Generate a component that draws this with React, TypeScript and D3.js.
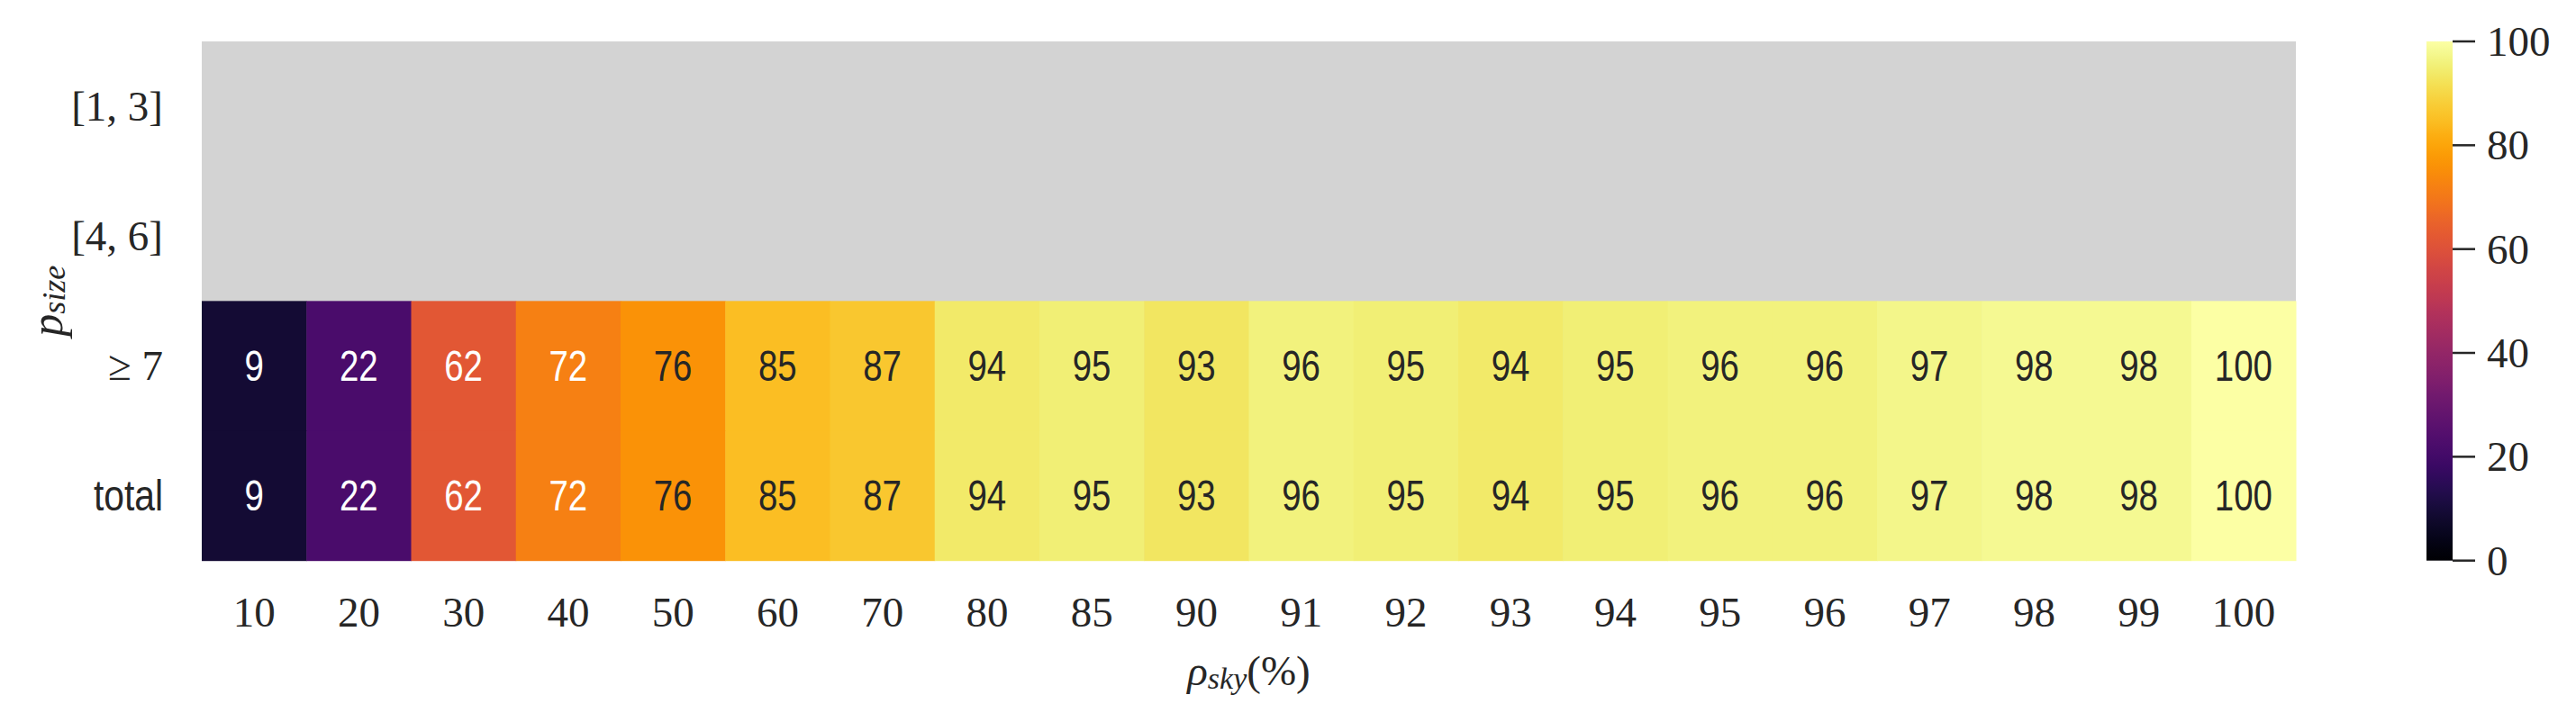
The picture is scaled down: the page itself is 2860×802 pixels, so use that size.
import React from "react";
import * as d3 from "d3";

// rho_sky (%) columns
const skyLevels = ["10", "20", "30", "40", "50", "60", "70", "80", "85", "90", "91", "92", "93", "94", "95", "96", "97", "98", "99", "100"];
// p_size rows
const sizeRows = ["[1, 3]", "[4, 6]", "≥ 7", "total"];
// values per row (null = no data, shown as grey background)
const rowLow: (number | null)[] = skyLevels.map(() => null);
const rowMid: (number | null)[] = skyLevels.map(() => null);
const rowHigh = [9, 22, 62, 72, 76, 85, 87, 94, 95, 93, 96, 95, 94, 95, 96, 96, 97, 98, 98, 100];
const rowTotal = [9, 22, 62, 72, 76, 85, 87, 94, 95, 93, 96, 95, 94, 95, 96, 96, 97, 98, 98, 100];
const colorbarTicks = [0, 20, 40, 60, 80, 100];

const W = 2860;
const H = 802;
const left = 224;
const right = 2549;
const top = 46;
const bottom = 622.7;
const cbLeft = 2694;
const cbRight = 2723;

const serif = "'Liberation Serif', 'DejaVu Serif', serif";
const sans = "'Liberation Sans', 'DejaVu Sans', sans-serif";
const ink = "#262626";

function luminance(c: string) {
  const rgb = d3.rgb(c);
  const lin = (v: number) => {
    const s = v / 255;
    return s <= 0.03928 ? s / 12.92 : Math.pow((s + 0.055) / 1.055, 2.4);
  };
  return 0.2126 * lin(rgb.r) + 0.7152 * lin(rgb.g) + 0.0722 * lin(rgb.b);
}

export default function App() {
  const rows = [rowLow, rowMid, rowHigh, rowTotal];

  const x = d3.scaleBand().domain(skyLevels).range([left, right]);
  const y = d3.scaleBand().domain(sizeRows).range([top, bottom]);
  const color = d3.scaleSequential(d3.interpolateInferno).domain([0, 100]);
  const cb = d3.scaleLinear().domain([0, 100]).range([bottom, top]);

  const stops = d3.range(0, 1.0001, 0.02);

  return (
    <svg
      width={W}
      height={H}
      style={{ position: "absolute", left: 0, top: 0, background: "#fff" }}
    >
      <defs>
        <linearGradient id="cbgrad" x1="0" y1="1" x2="0" y2="0">
          {stops.map((t) => (
            <stop key={t} offset={t} stopColor={d3.interpolateInferno(t)} />
          ))}
        </linearGradient>
      </defs>

      {/* background for missing cells */}
      <rect x={left} y={top} width={right - left} height={bottom - top} fill="#d3d3d3" />

      {rows.map((vals, ri) =>
        vals.map((v, ci) => {
          if (v === null) return null;
          const fill = color(v);
          const cx = x(skyLevels[ci])!;
          const cy = y(sizeRows[ri])!;
          const txt = luminance(fill) > 0.408 ? ink : "#ffffff";
          return (
            <g key={`${ri}-${ci}`}>
              <rect x={cx} y={cy} width={x.bandwidth() + 0.5} height={y.bandwidth() + 0.5} fill={fill} />
              <text
                transform={`translate(${cx + x.bandwidth() / 2}, ${cy + y.bandwidth() / 2}) scale(0.8, 1)`}
                textAnchor="middle"
                dominantBaseline="central"
                fontFamily={sans}
                fontSize={48}
                fill={txt}
              >
                {v}
              </text>
            </g>
          );
        })
      )}

      {/* x tick labels */}
      {skyLevels.map((s) => (
        <text
          key={s}
          x={x(s)! + x.bandwidth() / 2}
          y={680}
          textAnchor="middle"
          dominantBaseline="central"
          fontFamily={serif}
          fontSize={47}
          fill={ink}
        >
          {s}
        </text>
      ))}

      {/* y tick labels */}
      {sizeRows.map((r) => (
        <text
          key={r}
          transform={`translate(181, ${y(r)! + y.bandwidth() / 2})${r === "total" ? " scale(0.85, 1)" : ""}`}
          textAnchor="end"
          dominantBaseline="central"
          fontFamily={r === "total" ? sans : serif}
          fontSize={r === "total" ? 48 : 47}
          fill={ink}
        >
          {r}
        </text>
      ))}

      {/* x title */}
      <text
        x={(left + right) / 2}
        y={745}
        textAnchor="middle"
        dominantBaseline="central"
        fontFamily={serif}
        fontSize={47}
        fill={ink}
      >
        <tspan fontStyle="italic">ρ</tspan>
        <tspan fontStyle="italic" fontSize={34} dy={8}>sky</tspan>
        <tspan dy={-8}>(%)</tspan>
      </text>

      {/* y title */}
      <text
        transform={`translate(52, ${(top + bottom) / 2}) rotate(-90)`}
        textAnchor="middle"
        dominantBaseline="central"
        fontFamily={serif}
        fontSize={50}
        fill={ink}
      >
        <tspan fontStyle="italic">p</tspan>
        <tspan fontStyle="italic" fontSize={36} dy={8}>size</tspan>
      </text>

      {/* colorbar */}
      <rect x={cbLeft} y={top} width={cbRight - cbLeft} height={bottom - top} fill="url(#cbgrad)" />
      {colorbarTicks.map((t) => (
        <g key={t}>
          <line x1={cbRight} x2={cbRight + 25} y1={cb(t)} y2={cb(t)} stroke={ink} strokeWidth={2.5} />
          <text
            x={2761}
            y={cb(t)}
            textAnchor="start"
            dominantBaseline="central"
            fontFamily={serif}
            fontSize={47}
            fill={ink}
          >
            {t}
          </text>
        </g>
      ))}
    </svg>
  );
}
